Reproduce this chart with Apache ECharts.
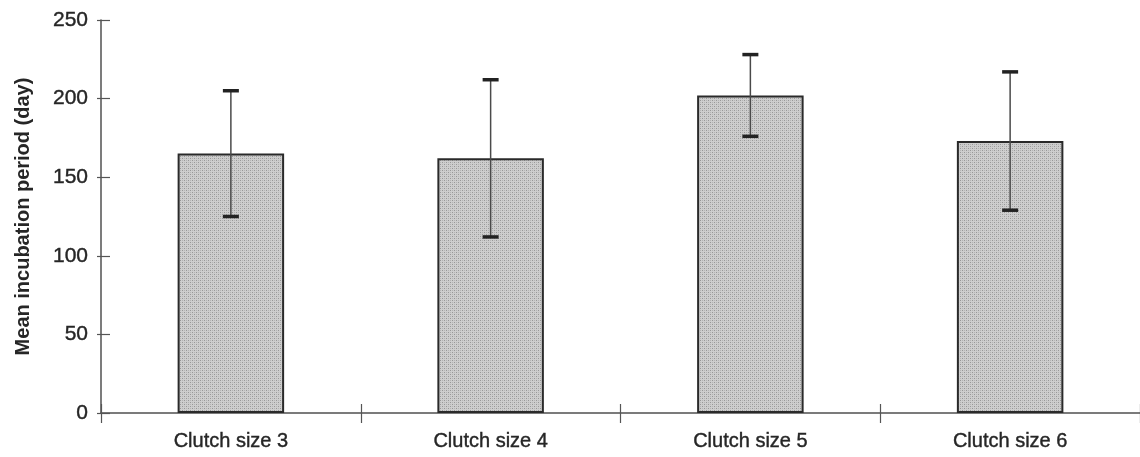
<!DOCTYPE html>
<html>
<head>
<meta charset="utf-8">
<script src="https://cdn.jsdelivr.net/npm/echarts@6/dist/echarts.min.js"></script>
<style>
  html, body { margin: 0; padding: 0; background: #fff; }
  #chart { width: 1140px; height: 457px; }
</style>
</head>
<body>
<div id="chart"></div>
<script>
// Mean incubation period by clutch size, with standard deviation
const categories = ['Clutch size 3', 'Clutch size 4', 'Clutch size 5', 'Clutch size 6'];
const meanDays = [165, 162, 202, 173];
const sdDays = [40, 50, 26, 44];
const yTicks = [0, 50, 100, 150, 200, 250];

// Stippled grey fill for the bars
function makeStipple() {
  const c = document.createElement('canvas');
  c.width = 4; c.height = 4;
  const g = c.getContext('2d');
  g.fillStyle = '#cecece';
  g.fillRect(0, 0, 4, 4);
  g.fillStyle = '#989898';
  g.fillRect(0, 0, 1, 1);
  g.fillRect(2, 2, 1, 1);
  g.fillStyle = '#b4b4b4';
  g.fillRect(2, 0, 1, 1);
  g.fillRect(0, 2, 1, 1);
  return c;
}

const errorData = meanDays.map((m, i) => [i, m - sdDays[i], m + sdDays[i]]);
const font = 'Liberation Sans, Arial, sans-serif';
const textColor = '#262626';

const chart = echarts.init(document.getElementById('chart'), null, { renderer: 'canvas' });
chart.setOption({
  animation: false,
  backgroundColor: '#ffffff',
  grid: { left: 101, right: -5, top: 20, bottom: 44 },
  xAxis: [{
    type: 'category',
    data: categories,
    axisLine: { lineStyle: { color: '#505050', width: 1.5 } },
    axisTick: { show: true, inside: false, length: 10, lineStyle: { color: '#555', width: 1.2 } },
    axisLabel: {
      color: textColor, fontSize: 20, fontFamily: font, margin: 18,
      textBorderColor: textColor, textBorderWidth: 0.4
    }
  }, {
    type: 'category',
    data: categories,
    position: 'bottom',
    axisLine: { show: false },
    axisTick: { show: true, inside: true, length: 9, lineStyle: { color: '#555', width: 1.2 } },
    axisLabel: { show: false }
  }],
  yAxis: [{
    type: 'value',
    min: yTicks[0],
    max: yTicks[yTicks.length - 1],
    interval: 50,
    name: 'Mean incubation period (day)',
    nameLocation: 'middle',
    nameGap: 68,
    nameTextStyle: { color: textColor, fontSize: 20, fontWeight: 'bold', fontFamily: font },
    splitLine: { show: false },
    axisLine: { show: true, lineStyle: { color: '#505050', width: 1.5 } },
    axisTick: { show: true, inside: true, length: 9, lineStyle: { color: '#555', width: 1.2 } },
    axisLabel: {
      color: textColor, fontSize: 21, fontFamily: font, margin: 13,
      textBorderColor: textColor, textBorderWidth: 0.4
    }
  }, {
    type: 'value',
    min: yTicks[0],
    max: yTicks[yTicks.length - 1],
    interval: 50,
    position: 'left',
    splitLine: { show: false },
    axisLine: { show: false },
    axisTick: { show: true, inside: false, length: 4, lineStyle: { color: '#555', width: 1.2 } },
    axisLabel: { show: false }
  }],
  series: [{
    type: 'bar',
    data: meanDays,
    barWidth: '41%',
    itemStyle: {
      color: { image: makeStipple(), repeat: 'repeat' },
      borderColor: '#2a2a2a',
      borderWidth: 2
    },
    z: 2
  }, {
    type: 'custom',
    data: errorData,
    z: 3,
    renderItem: function (params, api) {
      const x = api.value(0);
      const lo = api.coord([x, api.value(1)]);
      const hi = api.coord([x, api.value(2)]);
      const half = 8;
      return {
        type: 'group',
        children: [{
          type: 'line',
          shape: { x1: hi[0], y1: hi[1], x2: lo[0], y2: lo[1] },
          style: { stroke: '#4a4a4a', lineWidth: 1.5 }
        }, {
          type: 'line',
          shape: { x1: hi[0] - half, y1: hi[1], x2: hi[0] + half, y2: hi[1] },
          style: { stroke: '#222', lineWidth: 3.5 }
        }, {
          type: 'line',
          shape: { x1: lo[0] - half, y1: lo[1], x2: lo[0] + half, y2: lo[1] },
          style: { stroke: '#222', lineWidth: 3.5 }
        }]
      };
    }
  }]
});
</script>
</body>
</html>
